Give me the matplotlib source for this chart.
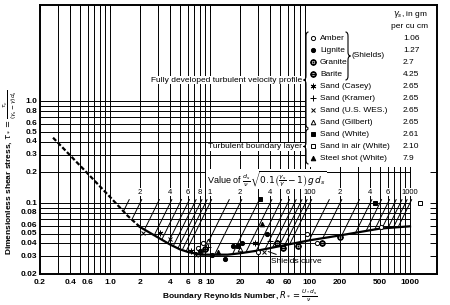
import numpy as np
import matplotlib
matplotlib.use("Agg")
import matplotlib.pyplot as plt
from matplotlib.path import Path
from matplotlib.patches import PathPatch, Rectangle

plt.rcParams['font.family'] = ['Liberation Sans', 'DejaVu Sans']
plt.rcParams['mathtext.fontset'] = 'dejavusans'

# Shields curve (laminar dashed part + solid part)
dash_R = [0.27, 0.6, 1.0, 1.5, 2.0]
dash_tau = [0.44, 0.195, 0.115, 0.075, 0.058]
curve_R = [2.0, 3, 4, 5, 6, 8, 10, 15, 20, 30, 40, 60, 100, 200, 500, 1000]
curve_tau = [0.058, 0.046, 0.039, 0.035, 0.033, 0.031, 0.031, 0.031, 0.032,
             0.034, 0.036, 0.039, 0.043, 0.048, 0.056, 0.059]

# lines of constant d/nu*sqrt(0.1(gs/g-1)g d)
param_D = [1.5, 2, 3, 4, 5, 6, 7, 8, 9, 10, 15, 20, 30, 40, 50, 60, 70, 80, 90,
           100, 150, 200, 300, 400, 500, 600, 700, 800, 900, 1000]
param_lab_D = [2, 4, 6, 8, 10, 20, 40, 60, 100, 200, 400, 600, 1000]
param_lab = ['2', '4', '6', '8', '1', '2', '4', '6', '100', '2', '4', '6', '1000']

# experimental points
amber_R = [7.6, 8.5, 30, 93, 117, 510]
amber_t = [0.036, 0.040, 0.033, 0.049, 0.040, 0.058]
lignite_R = [8, 10.5, 14, 17, 21, 37]
lignite_t = [0.034, 0.031, 0.028, 0.038, 0.040, 0.049]
granite_R = [47, 76, 200]
granite_t = [0.040, 0.038, 0.046]
barite_R = [9, 54, 131]
barite_t = [0.035, 0.036, 0.040]
casey_R = [3.16, 6.5, 28]
casey_t = [0.051, 0.034, 0.040]
kramer_R = [7, 9.5, 40]
kramer_t = [0.033, 0.037, 0.042]
wes_R = [2.14, 4, 7.2, 35]
wes_t = [0.051, 0.044, 0.031, 0.033]
gilbert_R = [9.5, 20]
gilbert_t = [0.042, 0.035]
white_R = [32, 450, 19]
white_t = [0.11, 0.10, 0.038]
air_R = [1260]
air_t = [0.10]
steel_R = [33, 12]
steel_t = [0.062, 0.033]

legend_names = ['Amber', 'Lignite', 'Granite', 'Barite', 'Sand (Casey)', 'Sand (Kramer)',
                'Sand (U.S. WES.)', 'Sand (Gilbert)', 'Sand (White)',
                'Sand in air (White)', 'Steel shot (White)']
legend_sg = ['1.06', '1.27', '2.7', '4.25', '2.65', '2.65', '2.65', '2.65', '2.61', '2.10', '7.9']
point_sets = [(amber_R, amber_t), (lignite_R, lignite_t), (granite_R, granite_t),
              (barite_R, barite_t), (casey_R, casey_t), (kramer_R, kramer_t),
              (wes_R, wes_t), (gilbert_R, gilbert_t), (white_R, white_t),
              (air_R, air_t), (steel_R, steel_t)]
styles = [dict(marker='o', mfc='white', ms=3),
          dict(marker='o', mfc='black', ms=3),
          dict(marker=r'$\odot$', mfc='black', ms=4),
          dict(marker=r'$\ominus$', mfc='black', ms=4),
          dict(marker=(6, 2, 0), mfc='black', ms=4),
          dict(marker='+', mfc='black', ms=3.8),
          dict(marker='x', mfc='black', ms=3.2),
          dict(marker='^', mfc='white', ms=3.3),
          dict(marker='s', mfc='black', ms=3.2),
          dict(marker='s', mfc='white', ms=3.2),
          dict(marker='^', mfc='black', ms=3.3)]

xgrid = [0.3, 0.4, 0.5, 0.6, 0.7, 0.8, 0.9, 1, 2, 3, 4, 5, 6, 7, 8, 9, 10, 20, 30, 40,
         50, 60, 70, 80, 90, 100, 200, 300, 400, 500, 600, 700, 800, 900, 1000]
ygrid = [0.03, 0.04, 0.05, 0.06, 0.07, 0.08, 0.09, 0.1, 0.2, 0.3, 0.4, 0.5, 0.6,
         0.7, 0.8, 0.9, 1.0]
xtick_vals = [0.2, 0.4, 0.6, 1.0, 2, 4, 6, 8, 10, 20, 40, 60, 100, 200, 500, 1000]
xtick_labs = ['0.2', '0.4', '0.6', '1.0', '2', '4', '6', '8', '10', '20', '40', '60',
              '100', '200', '500', '1000']
ytick_vals = [0.02, 0.03, 0.04, 0.05, 0.06, 0.08, 0.1, 0.2, 0.3, 0.4, 0.5, 0.6, 0.8, 1.0]
ytick_labs = ['0.02', '0.03', '0.04', '0.05', '0.06', '0.08', '0.1', '0.2', '0.3',
              '0.4', '0.5', '0.6', '0.8', '1.0']

W, H = 450, 305
FS = 6


def fp(px, py):
    return px / W, 1 - py / H


fig = plt.figure(figsize=(4.5, 3.05), dpi=100)
ax = fig.add_axes([40 / W, 31 / H, 397 / W, 269 / H])
ax.set_xscale('log')
ax.set_yscale('log')
ax.set_xlim(0.2, 10 ** 3.27)
ax.set_ylim(0.02, 10 ** 0.95)

ax.vlines(xgrid, 0.02, 10, color='black', lw=0.7, zorder=1)
ax.hlines(ygrid, 0.2, 1000, color='black', lw=0.7, zorder=1)

ax.set_xticks(xgrid + [0.2])
ax.set_xticks([], minor=True)
ax.set_yticks(ygrid + [0.02])
ax.set_yticks([], minor=True)
ax.set_xticklabels([])
ax.set_yticklabels([])
ax.tick_params(which='both', direction='in', length=5, width=0.7,
               top=True, right=True, bottom=False, left=False)
for v, s in zip(xtick_vals, xtick_labs):
    ax.text(v, 0.0178, s, ha='center', va='top', fontsize=FS, fontweight='bold')
for v, s in zip(ytick_vals, ytick_labs):
    ax.text(0.187, v, s, ha='right', va='center', fontsize=FS, fontweight='bold')
for sp in ax.spines.values():
    sp.set_linewidth(1.4)

# legend box covering the grid
ax.add_patch(Rectangle(fp(306, 167), (437 - 306) / W, (167 - 4) / H,
                       transform=fig.transFigure, facecolor='white',
                       edgecolor='none', zorder=2))

# parameter lines down to the Shields curve
allR = np.log10(dash_R + curve_R[1:])
allT = np.log10(dash_tau + curve_tau[1:])
for D in param_D:
    rr = np.logspace(np.log10(D * 0.5), np.log10(D * np.sqrt(1.08)), 400)
    tl = 0.1 * (rr / D) ** 2
    tc = 10 ** np.interp(np.log10(rr), allR, allT)
    keep = tl >= tc
    ax.plot(rr[keep], tl[keep], color='black', lw=0.7, zorder=2.2)
for D, s in zip(param_lab_D, param_lab):
    ax.text(D, 0.118, s, ha='center', va='bottom', fontsize=5.5, zorder=4,
            bbox=dict(facecolor='white', edgecolor='none', pad=0.3))

ax.plot(dash_R, dash_tau, color='black', lw=1.6, ls=(0, (2, 1)), zorder=3)
ax.plot(curve_R, curve_tau, color='black', lw=1.6, zorder=3)

for (rr, tt), st in zip(point_sets, styles):
    ax.plot(rr, tt, ls='none', mec='black', mew=0.7, zorder=4, clip_on=False, **st)

ax.annotate('Shields curve', xy=(36, 0.034), xytext=(41, 0.0265), fontsize=FS,
            ha='left', va='center', zorder=5,
            arrowprops=dict(arrowstyle='-', lw=0.7, color='black'))

ax.text(9.3, 0.172,
        r'Value of $\frac{d_s}{\nu}\sqrt{0.1\left(\frac{\gamma_s}{\gamma}-1\right)g\,d_s}$',
        fontsize=6.5, ha='left', va='center', zorder=4,
        bbox=dict(facecolor='white', edgecolor='none', pad=0.5))

fig.text(*fp(302, 80), 'Fully developed turbulent velocity profile', fontsize=FS,
         ha='right', va='center', zorder=6,
         bbox=dict(facecolor='white', edgecolor='none', pad=0.6))
fig.text(*fp(302, 147), 'Turbulent boundary layer', fontsize=FS,
         ha='right', va='center', zorder=6,
         bbox=dict(facecolor='white', edgecolor='none', pad=0.6))

# legend rows
fig.text(*fp(428, 15), r'$\gamma_s$, in gm', fontsize=FS, ha='right', va='center')
fig.text(*fp(428, 26), 'per cu cm', fontsize=FS, ha='right', va='center')
for i, (name, sg, st) in enumerate(zip(legend_names, legend_sg, styles)):
    py = 38 + 12 * i
    ax.plot(*fp(313, py), transform=fig.transFigure, ls='none', mec='black',
            mew=0.7, clip_on=False, zorder=6, **st)
    fig.text(*fp(320, py), name, fontsize=FS, ha='left', va='center', zorder=6)
    fig.text(*fp(403, py), sg, fontsize=FS, ha='left', va='center', zorder=6)
fig.text(*fp(352, 56), '(Shields)', fontsize=FS, ha='left', va='center', zorder=6)


def brace(x, y0, y1, w):
    # w > 0: tip points left, w < 0: tip points right (pixel coords)
    ym = (y0 + y1) / 2
    r = min(4, (y1 - y0) / 4)
    pts = [(x + w / 2, y0), (x, y0), (x, y0 + r), (x, ym - r), (x, ym), (x - w / 2, ym),
           (x, ym), (x, ym + r), (x, y1 - r), (x, y1), (x + w / 2, y1)]
    codes = [Path.MOVETO, Path.CURVE3, Path.CURVE3, Path.LINETO, Path.CURVE3, Path.CURVE3,
             Path.CURVE3, Path.CURVE3, Path.LINETO, Path.CURVE3, Path.CURVE3]
    verts = [fp(a, b) for a, b in pts]
    fig.add_artist(PathPatch(Path(verts, codes), fill=False, lw=0.8,
                             transform=fig.transFigure, zorder=6))


brace(306, 32, 128, 5)
brace(306, 129, 164, 5)
brace(348, 32, 80, -5)

fig.text(*fp(240, 296), r'Boundary Reynolds Number, $R_* = \frac{U_*d_s}{\nu}$',
         fontsize=FS, ha='center', va='center', fontweight='bold')
fig.text(*fp(10, 172),
         r'Dimensionless shear stress, $\tau_* = \frac{\tau_c}{(\gamma_s-\gamma)d_s}$',
         fontsize=FS, ha='center', va='center', rotation=90, fontweight='bold')

fig.savefig('out.png', dpi=100)
